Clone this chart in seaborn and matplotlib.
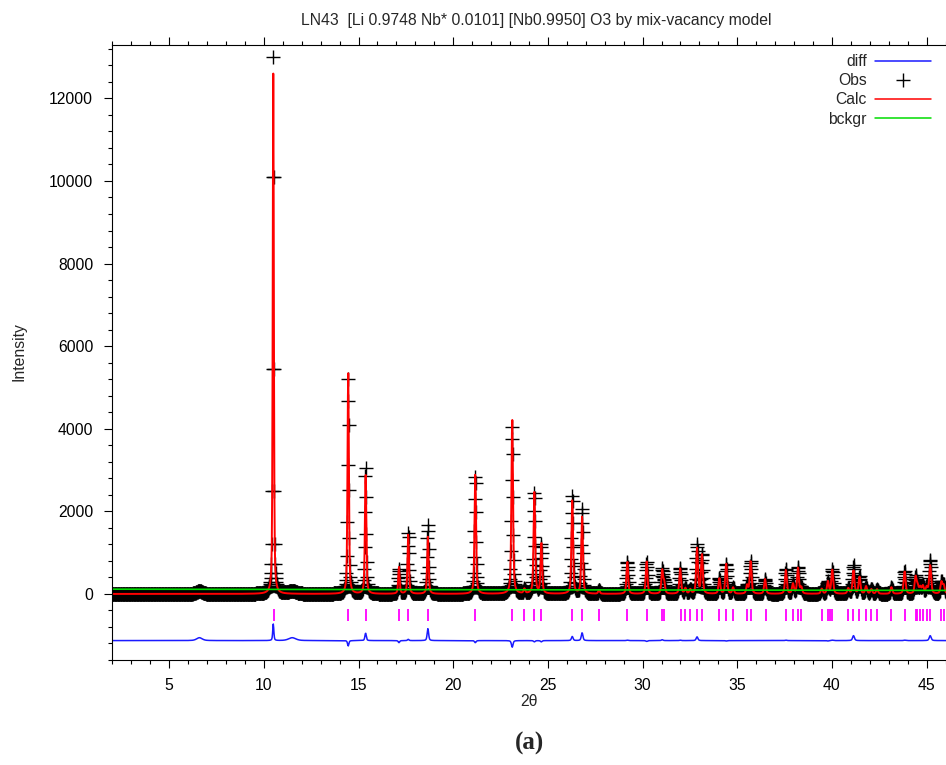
import numpy as np
import pandas as pd
import matplotlib
matplotlib.use("Agg")
import matplotlib.pyplot as plt
import seaborn as sns
from matplotlib.lines import Line2D
from matplotlib.ticker import MultipleLocator

# ---------------- data ----------------
scan_start, scan_stop, scan_step = 2.0, 46.02, 0.02

peak_pos = [10.500, 14.456, 15.374, 17.136, 17.626, 18.664, 21.166, 23.116, 23.760, 24.286,
            24.654, 26.286, 26.806, 27.700, 29.194, 30.214, 31.036, 31.140, 31.986, 32.260,
            32.520, 32.876, 33.134, 34.056, 34.414, 34.780, 35.520, 35.706, 36.466, 37.566,
            37.940, 38.206, 38.380, 39.460, 39.786, 40.016, 40.860, 41.136, 41.454, 41.800,
            42.080, 42.380, 43.140, 43.836, 44.414, 44.520, 44.660, 44.800, 45.000, 45.186,
            45.780, 45.900]
obs_height = [13000, 5250, 3100, 600, 1480, 1680, 2870, 4070, 110, 2450,
              1190, 2380, 2070, 90, 790, 770, 580, 260, 630, 130,
              100, 1190, 950, 370, 720, 150, 200, 790, 360, 590,
              240, 630, 150, 120, 290, 590, 130, 680, 410, 180,
              110, 110, 160, 550, 400, 180, 150, 180, 150, 810,
              280, 200]
calc_height = [12600, 5380, 2920, 650, 1450, 1390, 2920, 4230, 110, 2480,
               1220, 2280, 1880, 90, 780, 790, 560, 260, 620, 130,
               100, 1100, 950, 370, 730, 150, 200, 790, 360, 580,
               240, 630, 150, 120, 300, 580, 130, 560, 410, 180,
               110, 110, 160, 540, 400, 180, 150, 180, 150, 690,
               280, 200]
# peak width (FWHM, deg 2θ) at a few angles across the scan
fwhm_angle = [10.5, 14.5, 23.0, 46.0]
fwhm_value = [0.07, 0.085, 0.10, 0.12]
lorentz_frac = 0.5

# broad impurity bumps seen only in the observed pattern
bump_pos = [6.6, 11.5]
bump_height = [70, 70]
bump_fwhm = [0.35, 0.45]

bckgr_x = [2.0, 46.02]
bckgr_y = [115, 85]

reflections = [10.52, 14.46, 15.38, 17.16, 17.63, 18.67, 21.17, 23.12, 23.76, 24.29,
               24.66, 26.29, 26.81, 27.69, 29.20, 30.22, 31.03, 31.14, 32.02, 32.26,
               32.51, 32.88, 33.14, 34.06, 34.41, 34.76, 35.52, 35.73, 36.49, 37.56,
               37.93, 38.18, 38.37, 39.46, 39.78, 39.89, 40.02, 40.85, 41.13, 41.45,
               41.79, 42.07, 42.37, 43.14, 43.85, 44.41, 44.51, 44.66, 44.80, 45.01,
               45.18, 45.78, 45.92]
tick_low, tick_high = -660, -360
diff_offset = -1130

yticks_major = [0, 2000, 4000, 6000, 8000, 10000, 12000]
xticks_major = [5, 10, 15, 20, 25, 30, 35, 40, 45]

title = "LN43  [Li 0.9748 Nb* 0.0101] [Nb0.9950] O3 by mix-vacancy model"

# ---------------- build profiles ----------------
tth = np.round(np.arange(scan_start, scan_stop + 1e-9, scan_step), 2)


def pseudo_voigt(x, x0, h, w, eta):
    d = (x - x0) / w
    return h * (eta / (1.0 + 4.0 * d ** 2) + (1 - eta) * np.exp(-4 * np.log(2) * d ** 2))


obs = np.zeros_like(tth)
calc = np.zeros_like(tth)
for p, ho, hc in zip(peak_pos, obs_height, calc_height):
    w = np.interp(p, fwhm_angle, fwhm_value)
    obs += pseudo_voigt(tth, p, ho, w, lorentz_frac)
    calc += pseudo_voigt(tth, p, hc, w, lorentz_frac)
for p, h, w in zip(bump_pos, bump_height, bump_fwhm):
    obs += pseudo_voigt(tth, p, h, w, 0.5)
diff = obs - calc + diff_offset

df = pd.DataFrame({"tth": tth, "obs": obs, "calc": calc, "diff": diff})
bg = pd.DataFrame({"tth": bckgr_x, "bckgr": bckgr_y})

# ---------------- plot ----------------
sns.set_style("ticks")
plt.rcParams["font.family"] = ["Liberation Sans", "DejaVu Sans"]
plt.rcParams["axes.linewidth"] = 0.8

W, H = 946, 765
fig = plt.figure(figsize=(W / 100, H / 100), dpi=100)
ax = fig.add_axes([112.3 / W, 1 - 660 / H, 1 - 112.3 / W, (660 - 44.7) / H])

c_blue, c_red, c_green, c_mag = "#1a1aff", "#ff0000", "#00dd00", "#ff00ff"

sns.lineplot(data=df, x="tth", y="diff", ax=ax, color=c_blue, lw=1.1,
             estimator=None, sort=False, errorbar=None)
sns.lineplot(data=df, x="tth", y="obs", ax=ax, color="black", linestyle="",
             marker="+", markersize=10, markeredgewidth=1.0, markeredgecolor="black",
             estimator=None, sort=False, errorbar=None)
sns.lineplot(data=df, x="tth", y="calc", ax=ax, color=c_red, lw=1.4,
             estimator=None, sort=False, errorbar=None)
sns.lineplot(data=bg, x="tth", y="bckgr", ax=ax, color=c_green, lw=1.2,
             estimator=None, sort=False, errorbar=None)
ax.vlines(reflections, tick_low, tick_high, color=c_mag, lw=1.3)

ax.set_xlim(scan_start, scan_stop)
ax.set_ylim(-1600, 13300)
ax.set_xticks(xticks_major)
ax.set_yticks(yticks_major)
ax.xaxis.set_minor_locator(MultipleLocator(1))
ax.yaxis.set_minor_locator(MultipleLocator(400))
ax.tick_params(which="both", direction="out", top=True, right=False,
               labelsize=11.3, colors="black")
ax.tick_params(which="major", length=5.8, width=0.8)
ax.tick_params(which="minor", length=3.0, width=0.8)
ax.tick_params(axis="y", pad=8)
ax.tick_params(axis="x", pad=7)
ax.spines["right"].set_visible(False)
for s in ["left", "bottom", "top"]:
    ax.spines[s].set_color("black")
ax.set_xlabel("")
ax.set_ylabel("")

fig.text(536 / W, 1 - 21 / H, title, ha="center", va="center", fontsize=11.3)
fig.text(19 / W, 1 - 352 / H, "Intensity", rotation=90, ha="center", va="center", fontsize=11.3)
fig.text(529 / W, 1 - 702 / H, "2θ", ha="center", va="center", fontsize=11.3)
fig.text(529 / W, 1 - 743 / H, "(a)", ha="center", va="center", fontsize=18,
         fontweight="bold", family=["Liberation Serif", "DejaVu Serif"])

handles = [Line2D([], [], color=c_blue, lw=1.1),
           Line2D([], [], color="black", ls="", marker="+", markersize=10, markeredgewidth=1.0),
           Line2D([], [], color=c_red, lw=1.1),
           Line2D([], [], color=c_green, lw=1.1)]
labels = ["diff", "Obs", "Calc", "bckgr"]
ax.legend(handles, labels, loc="upper right", bbox_to_anchor=(931 / W, 1 - 54 / H),
          bbox_transform=fig.transFigure, frameon=False, markerfirst=False,
          handlelength=3.6, handletextpad=0.5, labelspacing=0.27,
          borderpad=0, borderaxespad=0, fontsize=11.3)

fig.savefig("out.png", dpi=100)
